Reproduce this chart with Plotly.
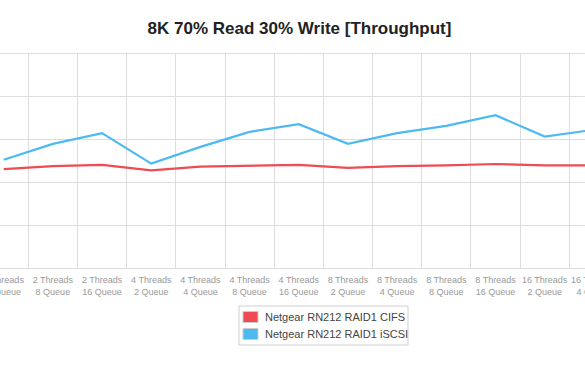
import plotly.graph_objects as go

categories = [
    "2 Threads<br>4 Queue", "2 Threads<br>8 Queue", "2 Threads<br>16 Queue",
    "4 Threads<br>2 Queue", "4 Threads<br>4 Queue", "4 Threads<br>8 Queue", "4 Threads<br>16 Queue",
    "8 Threads<br>2 Queue", "8 Threads<br>4 Queue", "8 Threads<br>8 Queue", "8 Threads<br>16 Queue",
    "16 Threads<br>2 Queue", "16 Threads<br>4 Queue",
]
cifs = [23.1, 23.8, 24.1, 22.8, 23.7, 23.9, 24.1, 23.4, 23.8, 24.0, 24.3, 24.0, 24.0]
iscsi = [25.3, 29.0, 31.5, 24.4, 28.3, 31.8, 33.6, 29.0, 31.5, 33.2, 35.7, 30.7, 32.3]
series_names = ["Netgear RN212 RAID1 CIFS", "Netgear RN212 RAID1 iSCSI"]
colors = ["#EE4B52", "#4DBAEF"]

W, H = 585, 372
M_T, M_B = 54, 104
x_range = [-0.075, 11.82]

def px_x(p):
    return p / W

def px_y(p):
    return (H - M_B - p) / (H - M_T - M_B)

fig = go.Figure()
for name, vals, col in zip(series_names, [cifs, iscsi], colors):
    fig.add_trace(go.Scatter(x=categories, y=vals, mode="lines", name=name,
                             line=dict(color=col, width=2.2), showlegend=False,
                             cliponaxis=True))

# partial tick label that falls just beyond the right edge
last_idx = len(categories) - 1
fig.add_annotation(x=(last_idx - x_range[0]) / (x_range[1] - x_range[0]), xref="paper",
                   xanchor="center", y=0, yref="paper", yanchor="top", yshift=-5,
                   text=categories[last_idx], showarrow=False,
                   font=dict(family="Liberation Sans, Arial", size=9, color="#999999"))

# legend box drawn as shapes + text
fig.add_shape(type="rect", xref="paper", yref="paper",
              x0=px_x(239), x1=px_x(408), y0=px_y(306), y1=px_y(345),
              line=dict(color="#d0d0d0", width=1), fillcolor="white", layer="above")
for i, (name, col) in enumerate(zip(series_names, colors)):
    cy = 317 + 17 * i
    fig.add_shape(type="rect", xref="paper", yref="paper",
                  x0=px_x(243), x1=px_x(258), y0=px_y(cy - 5.5), y1=px_y(cy + 5.5),
                  line=dict(color="#cccccc", width=1), fillcolor=col, layer="above")
    fig.add_annotation(x=px_x(263), xref="paper", xanchor="left",
                       y=px_y(cy), yref="paper", yanchor="middle",
                       text=name, showarrow=False,
                       font=dict(family="Liberation Sans, Arial", size=11, color="#444444"))

fig.update_layout(
    template="none",
    width=W, height=H, showlegend=False,
    margin=dict(l=0, r=0, t=M_T, b=M_B, autoexpand=False),
    paper_bgcolor="white", plot_bgcolor="white",
    title=dict(text="<b>8K 70% Read 30% Write [Throughput]</b>",
               x=0.512, xanchor="center", y=0.924, yanchor="middle", yref="container",
               font=dict(family="Liberation Sans, Arial", size=17, color="#222222")),
    xaxis=dict(type="category", range=x_range, tickson="boundaries", tickangle=0,
               showgrid=True, gridcolor="#dddddd", gridwidth=1,
               ticks="outside", ticklen=9, tickcolor="rgba(0,0,0,0)", ticklabelstandoff=3,
               showline=True, mirror=True, linecolor="#dddddd", linewidth=1,
               zeroline=False, automargin=False,
               tickfont=dict(family="Liberation Sans, Arial", size=9, color="#999999")),
    yaxis=dict(range=[0, 50], dtick=10, showgrid=True, gridcolor="#dddddd", gridwidth=1,
               showticklabels=False, zeroline=False, showline=False, automargin=False),
)
fig.write_html("out.html", config={"displayModeBar": False},
               post_script="document.body.style.margin='0';document.body.style.overflow='hidden';")
